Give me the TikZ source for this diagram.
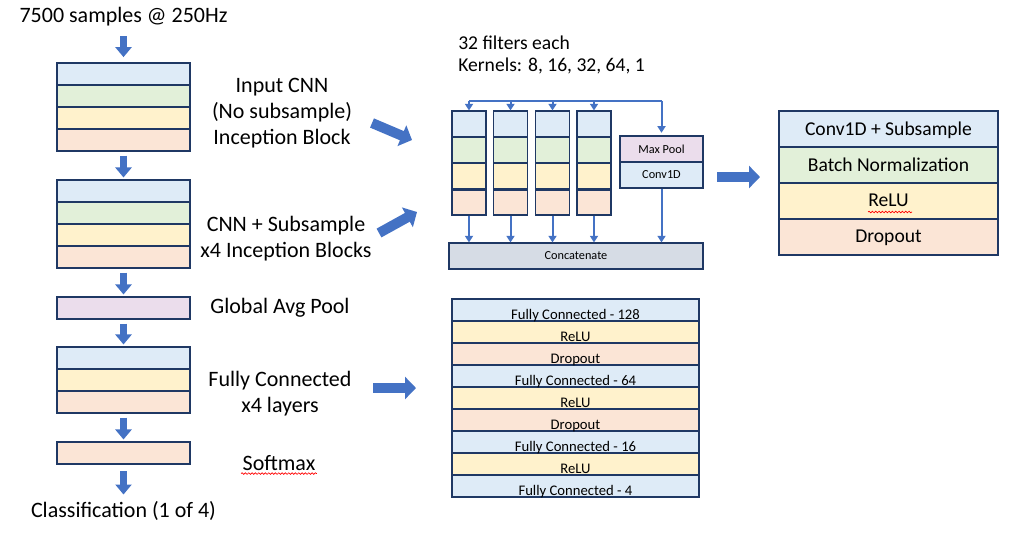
\documentclass[tikz,border=0pt]{standalone}
\usepackage{fontspec}
\setmainfont{Carlito}
\usetikzlibrary{arrows.meta,decorations.pathmorphing}

\definecolor{lblue}{HTML}{DEEBF7}
\definecolor{lgreen}{HTML}{E2F0D9}
\definecolor{lyellow}{HTML}{FFF2CC}
\definecolor{lorange}{HTML}{FBE5D6}
\definecolor{lpurple}{HTML}{EBDDEC}
\definecolor{lgray}{HTML}{D6DCE5}
\definecolor{navy}{HTML}{1F3864}
\definecolor{ablue}{HTML}{4472C4}

\tikzset{
  layer/.style={draw=navy, line width=0.8pt, inner sep=0pt,
    minimum width=99.75pt, minimum height=16.5pt},
  incol/.style={layer, minimum width=25.5pt, minimum height=19.5pt},
  inbox/.style={layer, minimum width=62.25pt, minimum height=19.5pt,
    font=\fontsize{9.2}{10}\selectfont},
  blkrow/.style={layer, minimum width=164.25pt, minimum height=27pt,
    text depth=0.5pt, font=\fontsize{14.7}{16}\selectfont},
  fcrow/.style={layer, minimum width=185.25pt, minimum height=16.5pt},
  fctext/.style={inner sep=0pt, anchor=base, font=\fontsize{11}{12}\selectfont},
  lbl/.style={align=center, inner sep=1pt, font=\fontsize{16.5}{19.5}\selectfont},
  downarrow/.style={ablue, line width=5.25pt,
    -{Triangle[length=7.5pt,width=12pt]}, shorten <=3pt, shorten >=1.5pt},
  fatarrow/.style={ablue, line width=7.5pt,
    -{Triangle[length=8.25pt,width=16.5pt]}},
  thinarrow/.style={ablue, line width=1.5pt, -{Triangle[length=5pt,width=6pt]}},
  squiggle/.style={red, line width=0.5pt, decorate,
    decoration={snake, amplitude=0.6pt, segment length=2.5pt}}
}

\begin{document}
\begin{tikzpicture}[x=0.75pt,y=-0.75pt]
\useasboundingbox (0,0) rectangle (1016,536);

% ---- Main stack ----
\node[lbl] (src) at (123.5,17) {7500 samples @ 250Hz};

% Input CNN block
\node[layer, fill=lblue]   (b1a) at (123.5,74) {};
\node[layer, fill=lgreen]  (b1b) at (123.5,96) {};
\node[layer, fill=lyellow] (b1c) at (123.5,118) {};
\node[layer, fill=lorange] (b1d) at (123.5,140) {};

% Subsample blocks
\node[layer, fill=lblue]   (b2a) at (123.5,191) {};
\node[layer, fill=lgreen]  (b2b) at (123.5,213) {};
\node[layer, fill=lyellow] (b2c) at (123.5,235) {};
\node[layer, fill=lorange] (b2d) at (123.5,257) {};

% Pooling
\node[layer, fill=lpurple] (gap) at (123.5,308) {};

% Dense part
\node[layer, fill=lblue]   (fca) at (123.5,358) {};
\node[layer, fill=lyellow] (fcb) at (123.5,380) {};
\node[layer, fill=lorange] (fcc) at (123.5,402) {};

% Output
\node[layer, fill=lorange] (smx) at (123.5,453) {};
\node[lbl] (cls) at (123.5,511) {Classification (1 of 4)};

% Arrows down the stack
\draw[downarrow, shorten <=6pt, shorten >=4pt] (src) -- (b1a.north);
\draw[downarrow] (b1d.south) -- (b2a.north);
\draw[downarrow] (b2d.south) -- (gap.north);
\draw[downarrow] (gap.south) -- (fca.north);
\draw[downarrow] (fcc.south) -- (smx.north);
\draw[downarrow, shorten <=5pt, shorten >=4pt] (smx.south) -- (cls);

% Labels
\node[lbl] (l1) at (282,113) {Input CNN\\(No subsample)\\Inception Block};
\node[lbl] (l2) at (286,239) {CNN + Subsample\\x4 Inception Blocks};
\node[lbl] (l3) at (280,308) {Global Avg Pool};
\node[lbl] (l4) at (280,394) {Fully Connected\\x4 layers};
\node[lbl] (l5) at (279,463) {Softmax};
\draw[squiggle] ([yshift=-1pt]l5.south west) -- ([yshift=-1pt]l5.south east);

% Fat arrows to the detail views
\coordinate (a1s) at (372,123);
\coordinate (a1e) at (412,140);
\coordinate (a2s) at (379,233);
\coordinate (a2e) at (417,212);
\coordinate (a3s) at (373,388);
\coordinate (a3e) at (416,388);
\coordinate (a4s) at (717,177);
\coordinate (a4e) at (760,177);
\draw[fatarrow] (a1s) -- (a1e);
\draw[fatarrow] (a2s) -- (a2e);
\draw[fatarrow] (a3s) -- (a3e);
\draw[fatarrow] (a4s) -- (a4e);

% ---- Inception block ----
\node[align=left, anchor=north west, inner sep=0pt,
  font=\fontsize{14.7}{16.5}\selectfont] (kern) at (458,36)
  {32 filters each\\Kernels: 8, 16, 32, 64, 1};

% Branches
\node[incol, fill=lblue]   (c1a) at (469,124) {};
\node[incol, fill=lgreen]  (c1b) at (469,150) {};
\node[incol, fill=lyellow] (c1c) at (469,176) {};
\node[incol, fill=lorange] (c1d) at (469,202) {};

\node[incol, fill=lblue]   (c2a) at (510.5,124) {};
\node[incol, fill=lgreen]  (c2b) at (510.5,150) {};
\node[incol, fill=lyellow] (c2c) at (510.5,176) {};
\node[incol, fill=lorange] (c2d) at (510.5,202) {};

\node[incol, fill=lblue]   (c3a) at (552.5,124) {};
\node[incol, fill=lgreen]  (c3b) at (552.5,150) {};
\node[incol, fill=lyellow] (c3c) at (552.5,176) {};
\node[incol, fill=lorange] (c3d) at (552.5,202) {};

\node[incol, fill=lblue]   (c4a) at (594,124) {};
\node[incol, fill=lgreen]  (c4b) at (594,150) {};
\node[incol, fill=lyellow] (c4c) at (594,176) {};
\node[incol, fill=lorange] (c4d) at (594,202) {};

% Heavier rule above the last row
\draw[navy, line width=1.8pt] (c1c.south west) -- (c1c.south east);
\draw[navy, line width=1.8pt] (c2c.south west) -- (c2c.south east);
\draw[navy, line width=1.8pt] (c3c.south west) -- (c3c.south east);
\draw[navy, line width=1.8pt] (c4c.south west) -- (c4c.south east);

% Pool branch
\node[inbox, fill=lpurple] (mp) at (661.5,149) {Max Pool};
\node[inbox, fill=lblue]   (cv) at (661.5,175) {Conv1D};

% Concatenate
\node[layer, fill=lgray, minimum width=190.5pt, minimum height=19.5pt,
  font=\fontsize{9.2}{10}\selectfont] (cc) at (576,256) {Concatenate};

% Input bus
\coordinate (busL) at (469,101);
\coordinate (busR) at (661.5,101);
\draw[ablue, line width=1.5pt] (busL) -- (busR);
\draw[thinarrow] (busR) -- ([yshift=2pt]mp.north);
\draw[thinarrow] (busL) -- (c1a.north);
\draw[thinarrow] (c2a.north |- busL) -- (c2a.north);
\draw[thinarrow] (c3a.north |- busL) -- (c3a.north);
\draw[thinarrow] (c4a.north |- busL) -- (c4a.north);

% Outputs into concatenate
\draw[thinarrow] (c1d.south) -- (c1d.south |- cc.north);
\draw[thinarrow] (c2d.south) -- (c2d.south |- cc.north);
\draw[thinarrow] (c3d.south) -- (c3d.south |- cc.north);
\draw[thinarrow] (c4d.south) -- (c4d.south |- cc.north);
\draw[thinarrow] (cv.south) -- (cv.south |- cc.north);

% ---- Conv layer detail ----
\node[blkrow, fill=lblue]   (r1) at (888.5,129) {Conv1D + Subsample};
\node[blkrow, fill=lgreen]  (r2) at (888.5,165) {Batch Normalization};
\node[blkrow, fill=lyellow] (r3) at (888.5,201) {ReLU};
\node[blkrow, fill=lorange] (r4) at (888.5,237) {Dropout};
\draw[squiggle] (868,212) -- (912,212);

% ---- Dense layer detail ----
\node[fcrow, fill=lblue]   (f1) at (575.5,310) {};
\node[fcrow, fill=lyellow] (f2) at (575.5,332) {};
\node[fcrow, fill=lorange] (f3) at (575.5,354) {};
\node[fcrow, fill=lblue]   (f4) at (575.5,376) {};
\node[fcrow, fill=lyellow] (f5) at (575.5,398) {};
\node[fcrow, fill=lorange] (f6) at (575.5,420) {};
\node[fcrow, fill=lblue]   (f7) at (575.5,442) {};
\node[fcrow, fill=lyellow] (f8) at (575.5,464) {};
\node[fcrow, fill=lblue]   (f9) at (575.5,486) {};

\node[fctext] (t1) at ([yshift=1.8pt]f1.south) {Fully Connected - 128};
\node[fctext] (t2) at ([yshift=1.8pt]f2.south) {ReLU};
\node[fctext] (t3) at ([yshift=1.8pt]f3.south) {Dropout};
\node[fctext] (t4) at ([yshift=1.8pt]f4.south) {Fully Connected - 64};
\node[fctext] (t5) at ([yshift=1.8pt]f5.south) {ReLU};
\node[fctext] (t6) at ([yshift=1.8pt]f6.south) {Dropout};
\node[fctext] (t7) at ([yshift=1.8pt]f7.south) {Fully Connected - 16};
\node[fctext] (t8) at ([yshift=1.8pt]f8.south) {ReLU};
\node[fctext] (t9) at ([yshift=1.8pt]f9.south) {Fully Connected - 4};

\end{tikzpicture}
\end{document}
